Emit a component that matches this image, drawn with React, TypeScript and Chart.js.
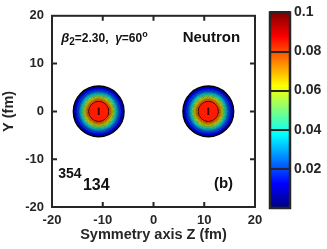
import React, { useEffect, useRef } from "react";
import { Chart, registerables } from "chart.js";

Chart.register(...registerables);

// ---- data ----
const axisTicks = [-20, -10, 0, 10, 20];
const blobCentersZ = [-10.8, 10.8];
const blobCentersY = [0, 0];
const contourLevels = [
  0.005, 0.01, 0.015, 0.02, 0.025, 0.03, 0.035, 0.04, 0.045, 0.05, 0.055, 0.06,
  0.065, 0.07, 0.075, 0.08,
];
const contourRadius = [
  5.0, 4.7, 4.4, 4.08, 3.9, 3.74, 3.58, 3.41, 3.25, 3.09, 2.93, 2.78, 2.62,
  2.45, 2.27, 2.0,
];
const coreLevel = 0.09;
const coreHalfLength = 0.7; // fm, vertical extent of the innermost contour
const densityMax = 0.1;
const colorbarTicks = [0.02, 0.04, 0.06, 0.08, 0.1];

const FONT = "'Liberation Sans', Arial, Helvetica, sans-serif";
const INK = "#262626";

function jet(x: number): string {
  const c = (v: number) => Math.round(255 * Math.max(0, Math.min(1, v)));
  return `rgb(${c(1.5 - Math.abs(4 * x - 3))},${c(1.5 - Math.abs(4 * x - 2))},${c(
    1.5 - Math.abs(4 * x - 1)
  )})`;
}

const pxPerFm = (chart: any) => {
  const s = chart.scales && chart.scales.x;
  if (!s) return 5;
  return Math.abs(s.getPixelForValue(1) - s.getPixelForValue(0));
};

const framePlugin = {
  id: "frame",
  afterDraw(chart: any) {
    const { ctx, chartArea: a, scales } = chart;
    ctx.save();
    ctx.strokeStyle = INK;
    ctx.lineWidth = 2;
    ctx.strokeRect(a.left, a.top, a.right - a.left, a.bottom - a.top);
    const len = 5;
    ctx.beginPath();
    axisTicks.slice(1, -1).forEach((t) => {
      const px = scales.x.getPixelForValue(t);
      ctx.moveTo(px, a.bottom);
      ctx.lineTo(px, a.bottom - len);
      ctx.moveTo(px, a.top);
      ctx.lineTo(px, a.top + len);
      const py = scales.y.getPixelForValue(t);
      ctx.moveTo(a.left, py);
      ctx.lineTo(a.left + len, py);
      ctx.moveTo(a.right, py);
      ctx.lineTo(a.right - len, py);
    });
    ctx.stroke();

    // annotations
    const X = (v: number) => scales.x.getPixelForValue(v);
    const Y = (v: number) => scales.y.getPixelForValue(v);
    ctx.fillStyle = "#111";
    ctx.textBaseline = "alphabetic";
    ctx.textAlign = "left";
    const run = (parts: [string, string, number][], x: number, y: number) => {
      let cx = x;
      parts.forEach(([txt, font, dy]) => {
        ctx.font = font;
        ctx.fillText(txt, cx, y + dy);
        cx += ctx.measureText(txt).width;
      });
    };
    run(
      [
        ["β", `italic bold 13px ${FONT}`, 0],
        ["2", `bold 10px ${FONT}`, 3],
        ["=2.30,  ", `bold 12px ${FONT}`, 0],
        ["γ", `italic bold 12px ${FONT}`, 0],
        ["=60", `bold 12px ${FONT}`, 0],
        ["o", `bold 9px ${FONT}`, -5],
      ],
      X(-18.2),
      Y(14.6)
    );
    ctx.font = `bold 15px ${FONT}`;
    ctx.fillText("Neutron", X(5.75), Y(14.6));
    ctx.font = `bold 14px ${FONT}`;
    ctx.fillText("354", X(-18.76), Y(-14));
    ctx.font = `bold 16px ${FONT}`;
    ctx.fillText("134", X(-13.9), Y(-16.4));
    ctx.font = `bold 15px ${FONT}`;
    ctx.fillText("(b)", X(11.9), Y(-16));
    ctx.restore();
  },
};

const colorbarPlugin = {
  id: "colorbarFill",
  beforeDraw(chart: any) {
    const { ctx, chartArea: a } = chart;
    const g = ctx.createLinearGradient(0, a.bottom, 0, a.top);
    [0, 0.125, 0.375, 0.625, 0.875, 1].forEach((s) => g.addColorStop(s, jet(s)));
    ctx.save();
    ctx.fillStyle = g;
    ctx.fillRect(a.left, a.top, a.right - a.left, a.bottom - a.top);
    ctx.restore();
  },
  afterDraw(chart: any) {
    const { ctx, chartArea: a } = chart;
    ctx.save();
    ctx.strokeStyle = INK;
    ctx.lineWidth = 2.5;
    ctx.strokeRect(a.left, a.top, a.right - a.left, a.bottom - a.top);
    ctx.restore();
  },
};

export default function App() {
  const mainRef = useRef<HTMLCanvasElement>(null);
  const barRef = useRef<HTMLCanvasElement>(null);

  useEffect(() => {
    // dataset 0 is drawn last (on top): innermost contour first
    const datasets: any[] = [];
    datasets.push({
      data: blobCentersZ.map((z, b) => ({ x: z, y: blobCentersY[b], rad: coreHalfLength })),
      pointStyle: "line",
      rotation: 90,
      pointRadius: (c: any) => (c.raw ? c.raw.rad * pxPerFm(c.chart) : 0),
      pointBorderColor: "#3a0000",
      pointBorderWidth: 1.8,
      backgroundColor: "#3a0000",
      borderColor: "#3a0000",
    });
    for (let i = contourLevels.length - 1; i >= 0; i--) {
      const lo = contourLevels[i];
      const hi = i + 1 < contourLevels.length ? contourLevels[i + 1] : coreLevel;
      const color = jet((lo + hi) / 2 / densityMax);
      const outer = i === 0;
      const last = i === contourLevels.length - 1;
      const bw = outer ? 1.4 : last ? 0.8 : 0.45;
      const bc = outer || last ? "#000" : "rgba(0,0,0,0.72)";
      datasets.push({
        data: blobCentersZ.map((z, b) => ({ x: z, y: blobCentersY[b], rad: contourRadius[i] })),
        pointStyle: "circle",
        pointRadius: (c: any) => (c.raw ? c.raw.rad * pxPerFm(c.chart) : 0),
        pointBackgroundColor: color,
        pointBorderColor: bc,
        pointBorderWidth: bw,
        backgroundColor: color,
        borderColor: bc,
      });
    }

    const main = new Chart(mainRef.current!, {
      type: "scatter",
      data: { datasets },
      plugins: [framePlugin],
      options: {
        animation: false,
        responsive: false,
        events: [],
        layout: { padding: { left: 0, top: 7, right: 72, bottom: 0 } },
        plugins: { legend: { display: false }, tooltip: { enabled: false } },
        scales: {
          x: {
            type: "linear",
            min: -20,
            max: 20,
            afterBuildTicks: (s: any) => {
              s.ticks = axisTicks.map((v) => ({ value: v }));
            },
            afterFit: (s: any) => {
              s.height = 42;
            },
            grid: { display: false, drawTicks: false },
            border: { display: false },
            ticks: { color: INK, font: { family: FONT, size: 13, weight: "bold" }, padding: 6, maxRotation: 0 },
            title: {
              display: true,
              text: "Symmetry axis Z (fm)",
              color: INK,
              font: { family: FONT, size: 14.5, weight: "bold" },
              padding: { top: 0, bottom: 5 },
            },
          },
          y: {
            type: "linear",
            min: -20,
            max: 20,
            afterBuildTicks: (s: any) => {
              s.ticks = axisTicks.map((v) => ({ value: v }));
            },
            afterFit: (s: any) => {
              s.width = 52;
            },
            grid: { display: false, drawTicks: false },
            border: { display: false },
            ticks: { color: INK, font: { family: FONT, size: 13, weight: "bold" }, padding: 8 },
            title: {
              display: true,
              text: "Y (fm)",
              color: INK,
              font: { family: FONT, size: 14.5, weight: "bold" },
              padding: { top: 0, bottom: 0 },
            },
          },
        },
      },
    } as any);

    const bar = new Chart(barRef.current!, {
      type: "scatter",
      data: { datasets: [{ data: [] }] },
      plugins: [colorbarPlugin],
      options: {
        animation: false,
        responsive: false,
        events: [],
        layout: { padding: { left: 270, top: 7, right: 0, bottom: 41 } },
        plugins: { legend: { display: false }, tooltip: { enabled: false } },
        scales: {
          x: { display: false, min: 0, max: 1 },
          y: {
            position: "right",
            min: 0,
            max: densityMax,
            afterBuildTicks: (s: any) => {
              s.ticks = colorbarTicks.map((v) => ({ value: v }));
            },
            afterFit: (s: any) => {
              s.width = 37;
            },
            grid: { display: true, drawOnChartArea: true, drawTicks: false, color: INK, lineWidth: 2 },
            border: { display: false },
            ticks: {
              color: INK,
              font: { family: FONT, size: 14, weight: "bold" },
              padding: 4,
              callback: (v: any) => String(Number(v)),
            },
          },
        },
      },
    } as any);

    return () => {
      main.destroy();
      bar.destroy();
    };
  }, []);

  return (
    <div style={{ position: "absolute", left: 0, top: 0, width: 327, height: 249, background: "#fff" }}>
      <canvas ref={mainRef} width={327} height={249} style={{ position: "absolute", left: 0, top: 0 }} />
      <canvas ref={barRef} width={327} height={249} style={{ position: "absolute", left: 0, top: 0 }} />
    </div>
  );
}
